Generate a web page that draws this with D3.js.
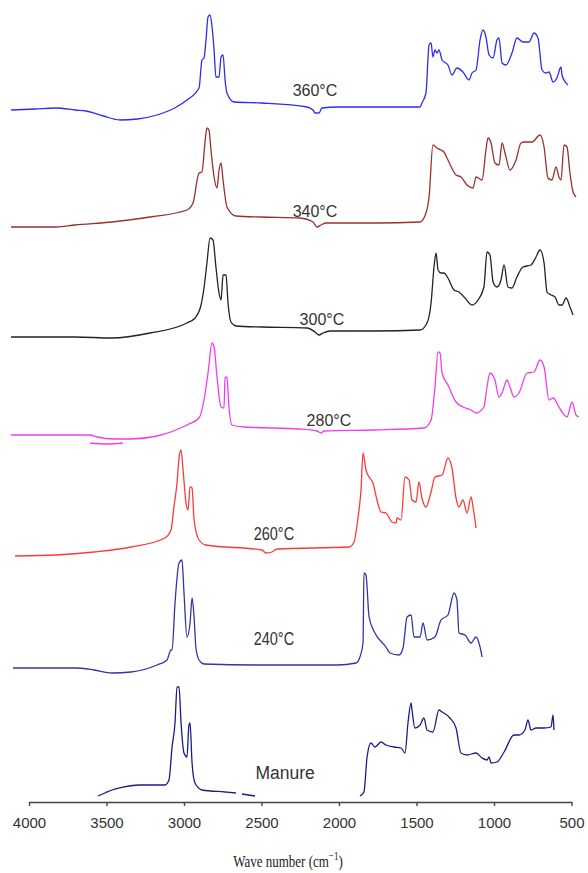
<!DOCTYPE html>
<html>
<head>
<meta charset="utf-8">
<script src="https://cdn.jsdelivr.net/npm/d3@7"></script>
<style>
body{margin:0;background:#fff;}
svg{display:block;}
.lbl{font-family:Arial,"Liberation Sans",sans-serif;fill:#333;}
.axis text{font-family:Arial,"Liberation Sans",sans-serif;font-size:15px;fill:#333;}
.axis path,.axis line{stroke:#444;stroke-width:1.4;}
</style>
</head>
<body>
<div id="chart"></div>
<script>
// x tick values (wave number, cm-1)
var xTicks = [4000, 3500, 3000, 2500, 2000, 1500, 1000, 500];

// series names / colours, stacked top to bottom
var names = ["360°C", "340°C", "300°C", "280°C", "260°C", "240°C", "Manure"];
var colors = ["#2c2cf2", "#9b2f2f", "#222222", "#f03cf0", "#ff3838", "#3434a4", "#1a1a8a"];
// vertical offset of each spectrum (a.u.)
var offsets = [69.2, 57.5, 46.5, 36.7, 24.6, 13.4, 0.6];
// label anchor: wave number and height above baseline
var labelWn = [2155, 2155, 2110, 2065, 2420, 2420, 2348];
var labelVal = [2.0, 1.6, 1.8, 1.55, 2.2, 2.9, 2.3];
var labelSize = [16, 16, 16, 16, 14.5, 14.5, 17.5];
var labelStretch = [1, 1, 1, 1.05, 1.3, 1.3, 1.05];

// spectra: [wave number, absorbance a.u.] ; a null entry breaks the line
var s360 = [[4116,0],[3960,0.1],[3826,0.2],[3700,0],[3632,-0.1],[3520,-0.6],[3413,-1.0],[3300,-0.9],[3174,-0.5],[3060,0.2],[2981,1.0],[2903,2.2],[2884,5.0],[2871,5.2],[2858,7.0],[2845,9.3],[2832,9.5],[2819,8.3],[2806,6.0],[2794,3.3],[2774,3.3],[2761,5.3],[2748,5.5],[2735,3.0],[2723,1.7],[2677,0.8],[2497,0.7],[2206,0.3],[2168,0],[2155,-0.3],[2129,-0.3],[2110,0.2],[2013,0.3],[1768,0.3],[1477,0.3],[1465,0.7],[1439,1.7],[1419,6.5],[1406,6.7],[1394,5.3],[1381,6.0],[1368,5.7],[1355,6.0],[1335,5.0],[1297,4.5],[1271,3.5],[1239,4.2],[1200,3.8],[1161,3.0],[1142,3.7],[1116,4.0],[1090,7.0],[1071,8.0],[1052,7.3],[1032,5.5],[1006,5.2],[981,7.0],[968,7.2],[948,4.7],[923,4.5],[884,5.7],[852,7.2],[813,6.8],[774,6.8],[742,7.7],[716,7.2],[690,4.0],[665,3.7],[645,3.8],[619,2.8],[594,3.2],[568,4.3],[561,3.5],[548,3.0],[523,2.5]];
var s340 = [[4116,0],[3826,0],[3703,0.2],[3465,0.5],[3219,1.0],[2981,1.7],[2942,2.4],[2903,5.4],[2884,5.5],[2865,8.4],[2852,9.9],[2839,9.7],[2826,7.7],[2806,5.0],[2787,3.9],[2774,5.7],[2761,6.4],[2748,4.7],[2723,2.0],[2665,1.1],[2497,1.0],[2252,0.9],[2168,0.5],[2142,0],[2116,0.2],[2084,0.4],[1768,0.4],[1477,0.5],[1439,1.4],[1419,3.0],[1394,8.2],[1368,7.9],[1342,7.7],[1323,7.5],[1297,6.7],[1245,5.2],[1213,5.0],[1174,4.2],[1135,3.9],[1116,5.0],[1077,4.7],[1052,7.7],[1039,8.9],[1019,8.4],[994,6.4],[968,6.2],[948,8.4],[929,7.4],[897,5.7],[858,6.7],[826,8.4],[800,8.5],[755,8.5],[703,9.2],[677,8.0],[652,4.9],[626,4.7],[600,6.0],[581,5.0],[568,4.7],[548,8.2],[529,8.0],[510,5.4],[490,3.5],[471,3.0]];
var s300 = [[4116,0],[3703,0],[3465,-0.1],[3219,0.4],[2981,1.4],[2929,1.9],[2890,3.2],[2871,4.9],[2852,7.4],[2832,9.9],[2813,9.7],[2794,7.0],[2774,4.4],[2761,3.7],[2748,6.2],[2729,6.2],[2716,3.4],[2697,1.5],[2665,1.1],[2497,1.0],[2206,0.9],[2155,0.5],[2129,0.2],[2103,0.4],[2058,0.6],[1768,0.6],[1477,0.7],[1432,1.4],[1406,3.4],[1387,7.0],[1374,8.4],[1361,6.7],[1342,6.4],[1323,6.4],[1297,5.9],[1258,4.7],[1226,4.5],[1187,3.9],[1142,3.2],[1103,3.7],[1065,5.0],[1045,8.5],[1026,8.2],[1006,5.5],[981,5.0],[955,5.7],[935,7.2],[910,5.0],[884,4.9],[852,6.0],[813,7.0],[761,7.2],[729,8.0],[703,8.7],[677,7.4],[658,4.5],[632,4.2],[606,4.0],[581,3.2],[561,3.2],[535,3.9],[510,3.0],[490,2.2]];
var s280 = [[4116,0],[3606,0],[3561,-0.2],[3450,-0.4],[3342,-0.4],[3174,-0.1],[2981,1.0],[2903,1.7],[2871,3.5],[2845,6.2],[2819,9.2],[2806,8.8],[2787,5.8],[2761,2.8],[2742,2.7],[2735,5.7],[2723,5.8],[2710,2.8],[2690,1.0],[2613,0.8],[2252,0.6],[2142,0.4],[2116,0.2],[2097,0.4],[1768,0.5],[1452,0.7],[1406,1.5],[1381,4.8],[1361,8.3],[1348,8.2],[1335,6.2],[1297,5.0],[1245,3.3],[1200,2.8],[1148,2.5],[1116,2.2],[1065,2.8],[1045,4.8],[1026,6.2],[994,5.5],[968,3.8],[948,4.2],[916,5.5],[897,4.8],[871,3.8],[839,4.2],[787,6.2],[742,6.3],[703,7.5],[677,6.8],[645,3.5],[619,3.7],[581,2.8],[561,2.3],[529,1.8],[497,3.3],[471,2.0],[452,1.8],
  null,[3606,-0.8],[3500,-0.9],[3394,-0.8]];
var s260 = [[4090,0],[3826,0.1],[3581,0.4],[3342,0.9],[3123,1.8],[3084,2.6],[3065,4.9],[3045,7.3],[3032,9.8],[3019,10.6],[3006,8.6],[2987,5.3],[2974,4.6],[2961,6.9],[2948,6.8],[2935,3.6],[2903,1.6],[2858,1.1],[2497,0.6],[2471,0.3],[2432,0.4],[2400,0.7],[1935,0.9],[1903,1.4],[1877,3.9],[1858,6.6],[1845,10.3],[1826,8.6],[1806,7.9],[1781,7.3],[1755,5.6],[1729,4.4],[1697,4.3],[1658,3.4],[1632,3.3],[1626,3.8],[1600,3.6],[1574,7.9],[1548,7.6],[1529,5.6],[1503,5.4],[1484,7.4],[1465,5.8],[1439,4.9],[1406,6.4],[1381,7.9],[1335,8.1],[1297,9.8],[1271,8.8],[1245,5.8],[1226,4.9],[1200,5.6],[1174,4.3],[1148,5.9],[1135,4.9],[1116,2.8]];
var s240 = [[4103,0],[3826,0],[3703,0],[3581,-0.2],[3465,-0.5],[3342,-0.4],[3174,0.3],[3110,0.8],[3084,1.8],[3077,1.8],[3058,6.5],[3032,10.5],[3013,10.8],[3000,7.5],[2981,3.1],[2961,4.5],[2948,7.0],[2935,5.1],[2923,2.0],[2903,0.8],[2871,0.4],[2497,0.3],[2013,0.3],[1890,0.5],[1865,1.1],[1845,2.5],[1839,9.5],[1826,9.3],[1806,5.1],[1768,3.5],[1697,2.1],[1671,1.5],[1613,1.3],[1587,2.0],[1561,5.1],[1535,5.3],[1516,3.1],[1477,3.1],[1458,4.5],[1432,2.8],[1381,3.1],[1342,4.8],[1297,5.3],[1258,7.5],[1239,6.8],[1226,3.5],[1187,3.3],[1148,2.5],[1116,3.1],[1090,2.1],[1077,1.1]];
var sManure = [[3555,0],[3510,0.3],[3465,0.6],[3387,0.9],[3290,1.1],[3123,1.1],[3097,1.6],[3077,4.9],[3058,7.3],[3045,10.9],[3032,10.9],[3019,7.3],[3000,4.3],[2981,3.9],[2968,7.1],[2961,7.3],[2948,3.3],[2929,1.3],[2884,0.6],[2735,0.4],[2665,0.3],
  null,[2626,0.2],[2542,0],
  null,[1865,0],[1839,0.4],[1819,3.9],[1794,5.3],[1768,4.9],[1729,5.4],[1697,5.1],[1645,4.9],[1600,4.8],[1574,4.3],[1555,7.3],[1535,9.3],[1529,8.6],[1510,6.8],[1477,7.1],[1452,7.8],[1432,6.6],[1394,6.4],[1355,8.6],[1335,8.4],[1284,7.8],[1245,6.8],[1213,4.3],[1174,4.1],[1116,4.3],[1077,3.8],[1045,3.6],[1032,3.9],[1019,3.3],[981,3.4],[935,4.4],[871,6.1],[839,6.1],[800,6.6],[781,7.6],[761,6.6],[729,6.8],[677,6.8],[632,6.9],[619,8.1],[613,6.6]];

var spectra = [s360, s340, s300, s280, s260, s240, sManure];

var width = 588, height = 873;
var svg = d3.select("#chart").append("svg")
	.attr("width", width)
	.attr("height", height);

var x = d3.scaleLinear().domain([4000, 500]).range([29, 571.5]);
var y = d3.scaleLinear().domain([0, 80]).range([802, 2]);

function drawSpectrum(data, i){
	var off = offsets[i];
	var line = d3.line()
		.defined(d => d !== null)
		.x(d => x(d[0]))
		.y(d => y(d[1] + off))
		.curve(d3.curveMonotoneX);
	svg.append("path")
		.datum(data)
		.attr("fill", "none")
		.attr("stroke", colors[i])
		.attr("stroke-width", 1.3)
		.attr("stroke-linejoin", "round")
		.attr("d", line);
	var lx = x(labelWn[i]), ly = y(labelVal[i] + off);
	svg.append("text")
		.attr("class", "lbl")
		.attr("transform", "translate(" + lx + "," + ly + ") scale(1," + labelStretch[i] + ")")
		.attr("text-anchor", "middle")
		.attr("dominant-baseline", "central")
		.style("font-size", labelSize[i] + "px")
		.text(names[i]);
}

spectra.forEach((s, i) => drawSpectrum(s, i));

// bottom axis
var axis = svg.append("g")
	.attr("class", "axis")
	.attr("transform", "translate(0," + y(0) + ")")
	.call(d3.axisBottom(x).tickValues(xTicks).tickSize(4).tickSizeOuter(0).tickPadding(11).tickFormat(d3.format("d")));

// axis title
var title = svg.append("text")
	.attr("transform", "translate(288,867) scale(1,1.35)")
	.attr("text-anchor", "middle")
	.style("font-family", "'Liberation Serif','Times New Roman',serif")
	.style("font-size", "13px")
	.style("fill", "#222");
title.append("tspan").text("Wave number  (cm");
title.append("tspan").attr("dy", -5).style("font-size", "9px").text("−1");
title.append("tspan").attr("dy", 5).text(")");
</script>
</body>
</html>
